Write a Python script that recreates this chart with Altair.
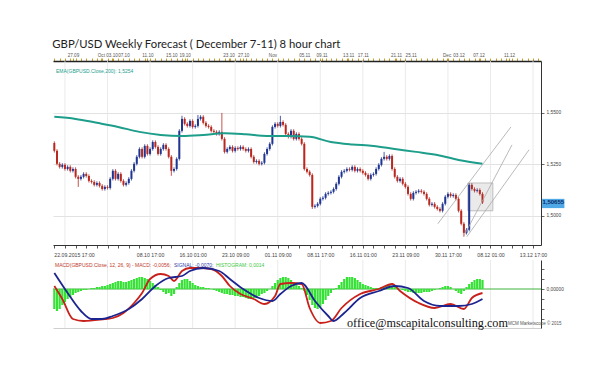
import altair as alt
import pandas as pd

title_text = "GBP/USD Weekly Forecast ( December 7-11) 8 hour chart"
ema_text = "EMA(GBPUSD.Close,200): 1,5254"
macd_text = "MACD(GBPUSD.Close, 12, 26, 9) - MACD: -0,0056;"
signal_text = "SIGNAL: -0,0070;"
hist_text = "HISTOGRAM: 0,0014"
watermark = "office@mscapitalconsulting.com"
credit = "MCM Marketscope \u00a9 2015"

# ---- 8-hour candles (closes; open = previous close) ----
first_open = 1.5354
closes = [
    1.5316, 1.5253, 1.5238, 1.5248, 1.5228, 1.5238, 1.5219, 1.5228, 1.5190, 1.5180,
    1.5190, 1.5204, 1.5194, 1.5170, 1.5165, 1.5151, 1.5160, 1.5146, 1.5131, 1.5141,
    1.5136, 1.5180, 1.5219, 1.5180, 1.5204, 1.5170, 1.5151, 1.5160, 1.5180, 1.5219,
    1.5253, 1.5287, 1.5325, 1.5287, 1.5340, 1.5301, 1.5325, 1.5359, 1.5335, 1.5301,
    1.5325, 1.5345, 1.5325, 1.5287, 1.5219, 1.5228, 1.5277, 1.5413, 1.5471, 1.5447,
    1.5437, 1.5461, 1.5432, 1.5437, 1.5471, 1.5481, 1.5452, 1.5437, 1.5432, 1.5413,
    1.5408, 1.5398, 1.5408, 1.5374, 1.5311, 1.5325, 1.5335, 1.5316, 1.5330, 1.5325,
    1.5335, 1.5325, 1.5316, 1.5325, 1.5287, 1.5262, 1.5267, 1.5253, 1.5258, 1.5301,
    1.5325, 1.5350, 1.5432, 1.5447, 1.5437, 1.5456, 1.5442, 1.5398, 1.5384, 1.5413,
    1.5374, 1.5398, 1.5374, 1.5350, 1.5228, 1.5214, 1.5199, 1.5044, 1.5049, 1.5059,
    1.5083, 1.5088, 1.5107, 1.5112, 1.5117, 1.5131, 1.5156, 1.5190, 1.5214, 1.5219,
    1.5228, 1.5224, 1.5238, 1.5219, 1.5228, 1.5219, 1.5209, 1.5199, 1.5180, 1.5199,
    1.5204, 1.5228, 1.5248, 1.5277, 1.5287, 1.5277, 1.5291, 1.5228, 1.5190, 1.5170,
    1.5180, 1.5156, 1.5141, 1.5107, 1.5083, 1.5112, 1.5117, 1.5122, 1.5117, 1.5107,
    1.5083, 1.5054, 1.5059, 1.5044, 1.5034, 1.5025, 1.5059, 1.5093, 1.5107, 1.5097,
    1.5102, 1.5083, 1.5025, 1.4962, 1.4918, 1.4933, 1.5151, 1.5131, 1.5122, 1.5126,
    1.5107, 1.5066,
]
high_marks = {0: 1.5362, 48: 1.5486, 54: 1.5490, 63: 1.5500, 85: 1.5486, 124: 1.5311}
low_marks = {9: 1.5141, 44: 1.5195, 97: 1.5034, 154: 1.4899}
wick = 0.0008

# ---- 200 moving average ----
sma_idx = [0, 8, 16, 24, 32, 40, 48, 56, 64, 72, 80, 88, 96, 104, 112, 120, 128, 136, 144, 152, 161]
sma_val = [1.5481, 1.5471, 1.5452, 1.5432, 1.5408, 1.5393, 1.5388, 1.5393, 1.5401, 1.5396,
           1.5388, 1.5388, 1.5384, 1.5359, 1.5347, 1.5340, 1.5325, 1.5311, 1.5296, 1.5272, 1.5253]

# ---- channel lines and box ----
chan_id = ["a", "a", "b", "b", "c", "c"]
chan_i = [144.2, 171.7, 154.0, 172.1, 155.1, 178.5]
chan_p = [1.4962, 1.5432, 1.4903, 1.5345, 1.4899, 1.5321]
box = {"i1": 155.5, "i2": 164.9, "p1": 1.5160, "p2": 1.5025}
last_price = 1.50655
last_label = "1,50655"

# ---- MACD ----
macd_idx = [0, 3, 7, 11, 19, 22, 26, 30, 33, 36, 40, 43, 45, 48, 51, 55, 59, 63, 66, 70, 75, 79,
            83, 85, 89, 93, 96, 100, 104, 108, 115, 122, 127, 130, 137, 143, 149, 154, 157, 161]
macd_val = [0.0006, -0.0020, -0.0060, -0.0064, -0.0060, -0.0058, -0.0048, -0.0028, -0.0008, 0.0020,
            0.0030, 0.0026, 0.0016, 0.0036, 0.0042, 0.0042, 0.0040, 0.0026, 0.0006, -0.0010,
            -0.0020, -0.0030, -0.0014, 0.0010, 0.0012, 0.0010, -0.0038, -0.0068, -0.0064, -0.0038,
            -0.0010, 0.0000, 0.0010, -0.0004, -0.0028, -0.0038, -0.0030, -0.0040, -0.0018, -0.0008]
sig_idx = [0, 5, 10, 14, 18, 22, 28, 33, 38, 43, 48, 51, 56, 62, 66, 71, 77, 82, 85, 89, 93,
           98, 103, 105, 109, 115, 122, 128, 133, 139, 145, 152, 157, 161]
sig_val = [0.0032, -0.0008, -0.0044, -0.0060, -0.0060, -0.0054, -0.0040, -0.0020, 0.0006, 0.0022,
           0.0026, 0.0036, 0.0042, 0.0036, 0.0020, 0.0000, -0.0018, -0.0024, -0.0010, 0.0006,
           0.0012, -0.0024, -0.0054, -0.0064, -0.0048, -0.0018, -0.0004, 0.0006, 0.0002, -0.0024,
           -0.0034, -0.0034, -0.0030, -0.0020]
# histogram per candle, in units of 0.0001
hist_e4 = [
    -40, -44, -40, -32, -26, -20, -16, -12, -8, -6, -4, -2, -2, 0, 2, 2, 4, 4, 6, 6,
    8, 10, 12, 14, 16, 16, 14, 14, 16, 18, 20, 22, 24, 24, 22, 20, 16, 12, 8, 4,
    -2, -6, -10, -8, -14, -10, 4, 12, 18, 20, 20, 16, 12, 8, 6, 4, 4, 2, 2, 0,
    -2, -4, -6, -8, -10, -10, -12, -12, -14, -14, -16, -16, -18, -20, -20, -18, -18, -14, -10, -8,
    -4, 0, 6, 12, 18, 22, 24, 24, 22, 18, 14, 10, 6, 2, -4, -12, -22, -32, -38, -40,
    -36, -30, -22, -14, -8, -2, 2, 8, 14, 20, 24, 24, 24, 22, 18, 14, 10, 8, 6, 4,
    2, 2, 2, 4, 6, 8, 8, 6, 4, 2, 0, -2, -4, -6, -6, -8, -8, -8, -8, -6,
    -6, -6, -4, -2, 0, 2, 4, 6, 6, 4, 0, -4, -8, -10, -4, 4, 10, 14, 18, 20,
    20, 18,
]

# ---- axes labels ----
top_labels = ["27.09", "Oct", "03.10", "07.10", "11.10", "15.10", "19.10", "23.10", "27.10", "Nov",
              "05.11", "09.11", "13.11", "17.11", "21.11", "25.11", "Dec", "03.12", "07.12", "11.12"]
top_pos = [7, 17.5, 21.5, 26, 35, 44, 49, 65.5, 71, 82, 94, 100.5, 110.5, 116, 128.5, 134,
           147.5, 152, 159.5, 171]
first_label = "22.09.2015 17:00"
bottom_labels = ["08.10 17:00", "16.10 01:00", "23.10 09:00", "01.11 09:00",
                 "08.11 17:00", "16.11 01:00", "23.11 09:00", "30.11 17:00", "08.12 01:00", "13.12 17:00"]
bottom_pos = [36, 52, 68, 84, 100, 116, 132, 148, 164, 180]
grid_idx = [4, 20, 36, 52, 68, 84, 100, 116, 132, 148, 164, 180]
price_ticks = [1.5000, 1.5250, 1.5500]

# ---------------------------------------------------------------
opens = [first_open] + closes[:-1]
rows = []
for i, (o, c) in enumerate(zip(opens, closes)):
    hi = high_marks.get(i, max(o, c) + wick)
    lo = low_marks.get(i, min(o, c) - wick)
    rows.append({"i": i, "open": o, "close": c, "high": max(hi, o, c), "low": min(lo, o, c)})
candles = pd.DataFrame(rows)
sma_df = pd.DataFrame({"i": sma_idx, "v": sma_val})
chan_df = pd.DataFrame({"g": chan_id, "i": chan_i, "p": chan_p})
box_df = pd.DataFrame([box])
price_df = pd.DataFrame({"i1": [183.4], "i2": [191.8], "p1": [1.5083], "p2": [1.5038],
                         "im": [187.6], "p": [last_price], "t": [last_label]})
grid_df = pd.DataFrame({"i": grid_idx})
first_df = pd.DataFrame({"i": [0], "t": [first_label]})
macd_df = pd.DataFrame({"i": macd_idx, "v": macd_val})
sig_df = pd.DataFrame({"i": sig_idx, "v": sig_val})
hist_df = pd.DataFrame({"i": list(range(len(hist_e4))), "v": [h / 10000 for h in hist_e4]})
hist_df["z"] = 0.0
zero_df = pd.DataFrame({"v": [0.0]})


def label_expr(vals, texts):
    return "".join(f"datum.value=={v}?'{t}':" for v, t in zip(vals, texts)) + "''"


W = 488
xs = alt.Scale(domain=[-0.5, 183], nice=False, zero=False, padding=0)
ys = alt.Scale(domain=[1.4859, 1.5752], nice=False, zero=False, padding=0)
ms = alt.Scale(domain=[-0.0078, 0.0058], nice=False, zero=False, padding=0)
FONT = "Liberation Sans"
BULL = "#1f3592"
BEAR = "#b8281f"

top_vals = sorted(set(list(range(0, 183, 2)) + top_pos))
bot_vals = sorted(set(list(range(0, 183, 4)) + bottom_pos))

top_axis = alt.Axis(orient="top", values=top_vals, labelExpr=label_expr(top_pos, top_labels),
                    domainColor="#222222", domainWidth=1.5, tickColor="#c9a227", tickSize=3,
                    labelColor="#555555", labelFontSize=4.6, labelPadding=1, grid=False,
                    title=None, labelOverlap=False, labelAngle=0, labelFont=FONT)
bot_axis = alt.Axis(orient="bottom", values=bot_vals, labelExpr=label_expr(bottom_pos, bottom_labels),
                    domainColor="#333333", tickColor="#555555", tickSize=3, labelColor="#444444",
                    labelFontSize=5.2, labelPadding=4, grid=False, title=None, labelOverlap=False,
                    labelAngle=0, labelFont=FONT)
price_axis = alt.Axis(orient="right", values=price_ticks,
                      labelExpr="replace(format(datum.value, '.4f'), '.', ',')",
                      grid=True, gridColor="#e2e2e2", domainColor="#333333", tickColor="#666666",
                      tickSize=3, labelFontSize=4.8, labelColor="#444444", title=None, labelFont=FONT)

color_cond = alt.condition("datum.close >= datum.open", alt.value(BULL), alt.value(BEAR))

grid_main = alt.Chart(grid_df).mark_rule(color="#e4e4e4", strokeWidth=0.8).encode(
    x=alt.X("i:Q", scale=xs, axis=None))
box_layer = alt.Chart(box_df).mark_rect(fill="#dcdcdc", fillOpacity=0.6, stroke="#b0b0b0",
                                        strokeWidth=0.8).encode(
    x=alt.X("i1:Q", scale=xs, axis=None), x2="i2:Q",
    y=alt.Y("p1:Q", scale=ys, axis=None), y2="p2:Q")
wicks = alt.Chart(candles).mark_rule(strokeWidth=0.8).encode(
    x=alt.X("i:Q", scale=xs, axis=top_axis),
    y=alt.Y("low:Q", scale=ys, axis=None), y2="high:Q", color=color_cond)
bodies = alt.Chart(candles).mark_bar(size=2).encode(
    x=alt.X("i:Q", scale=xs, axis=bot_axis),
    y=alt.Y("open:Q", scale=ys, axis=price_axis), y2="close:Q", color=color_cond)
sma = alt.Chart(sma_df).mark_line(color="#1d9e8b", strokeWidth=2, interpolate="monotone").encode(
    x=alt.X("i:Q", scale=xs, axis=None), y=alt.Y("v:Q", scale=ys, axis=None))
chan = alt.Chart(chan_df).mark_line(color="#a8a8a8", strokeWidth=0.8).encode(
    x=alt.X("i:Q", scale=xs, axis=None), y=alt.Y("p:Q", scale=ys, axis=None), detail="g:N")
pbox = alt.Chart(price_df).mark_rect(fill="#4ea9e6").encode(
    x=alt.X("i1:Q", scale=xs, axis=None), x2="i2:Q",
    y=alt.Y("p1:Q", scale=ys, axis=None), y2="p2:Q")
ptext = alt.Chart(price_df).mark_text(fontSize=6, fontWeight="bold", color="#0b2a66", font=FONT).encode(
    x=alt.X("im:Q", scale=xs, axis=None), y=alt.Y("p:Q", scale=ys, axis=None), text="t:N")
first_text = alt.Chart(first_df).mark_text(align="left", baseline="middle", fontSize=5.2,
                                           color="#444444", font=FONT).encode(
    x=alt.X("i:Q", scale=xs, axis=None), y=alt.value(194), text="t:N")
ema_label = alt.Chart(zero_df).mark_text(align="left", baseline="middle", fontSize=5, color="#1d9e8b",
                                         font=FONT).encode(
    x=alt.value(3), y=alt.value(10), text=alt.value(ema_text))

main = alt.layer(grid_main, box_layer, wicks, bodies, sma, chan, pbox, ptext, first_text,
                 ema_label).resolve_axis(x="independent", y="independent").properties(width=W, height=184)

# ---- MACD panel ----
macd_axis = alt.Axis(orient="right", values=[-0.006, -0.004, -0.002, 0, 0.002, 0.004],
                     labelExpr="datum.value==0?'0,00000':''", tickSize=3, tickColor="#666666",
                     domainColor="#333333", grid=False, title=None, labelFontSize=4.8,
                     labelColor="#444444", labelFont=FONT)
macd_xaxis = alt.Axis(orient="bottom", labels=False, ticks=False, domainColor="#cfcfcf", title=None,
                      grid=False)
grid_macd = alt.Chart(grid_df).mark_rule(color="#e4e4e4", strokeWidth=0.8).encode(
    x=alt.X("i:Q", scale=xs, axis=None))
zero_line = alt.Chart(zero_df).mark_rule(color="#3cb43c", strokeWidth=1).encode(
    y=alt.Y("v:Q", scale=ms, axis=None))
hist = alt.Chart(hist_df).mark_bar(size=2.2, color="#35e135").encode(
    x=alt.X("i:Q", scale=xs, axis=macd_xaxis), y=alt.Y("v:Q", scale=ms, axis=macd_axis), y2="z:Q")
macd_line = alt.Chart(macd_df).mark_line(color="#c8201a", strokeWidth=1.8, interpolate="monotone").encode(
    x=alt.X("i:Q", scale=xs, axis=None), y=alt.Y("v:Q", scale=ms, axis=None))
sig_line = alt.Chart(sig_df).mark_line(color="#1c2490", strokeWidth=1.8, interpolate="monotone").encode(
    x=alt.X("i:Q", scale=xs, axis=None), y=alt.Y("v:Q", scale=ms, axis=None))
t1 = alt.Chart(zero_df).mark_text(align="left", baseline="middle", fontSize=5, color="#c0392b",
                                  font=FONT).encode(x=alt.value(2), y=alt.value(5), text=alt.value(macd_text))
t2 = alt.Chart(zero_df).mark_text(align="left", baseline="middle", fontSize=5, color="#2b3aa8",
                                  font=FONT).encode(x=alt.value(121), y=alt.value(5), text=alt.value(signal_text))
t3 = alt.Chart(zero_df).mark_text(align="left", baseline="middle", fontSize=5, color="#3cc83c",
                                  font=FONT).encode(x=alt.value(163), y=alt.value(5), text=alt.value(hist_text))
wm = alt.Chart(zero_df).mark_text(align="left", baseline="alphabetic", fontSize=12.2, color="#111111",
                                  font="Liberation Serif").encode(
    x=alt.value(294), y=alt.value(67), text=alt.value(watermark))
cr = alt.Chart(zero_df).mark_text(align="left", baseline="alphabetic", fontSize=4.5, color="#555555",
                                  font=FONT).encode(x=alt.value(455), y=alt.value(65), text=alt.value(credit))

macd = alt.layer(grid_macd, zero_line, hist, macd_line, sig_line, t1, t2, t3, wm, cr).resolve_axis(
    x="independent", y="independent").properties(width=W, height=68)

chart = alt.vconcat(main, macd, spacing=0).properties(
    title=alt.TitleParams(title_text, anchor="start", fontSize=11.3, font="Lato", color="#222222",
                          fontWeight="normal", offset=2, dx=2),
    padding={"left": 42, "top": 30, "right": 5, "bottom": 5},
).configure_view(stroke=None)

chart.save("out.html", embed_options={"renderer": "svg", "actions": False})
